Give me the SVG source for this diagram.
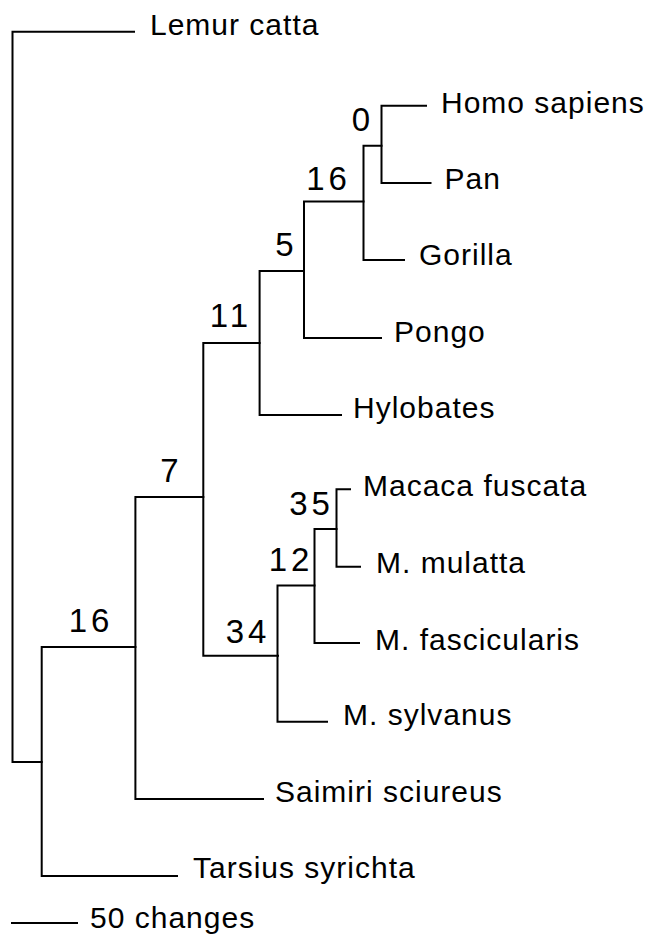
<svg xmlns="http://www.w3.org/2000/svg" width="650" height="937" viewBox="0 0 650 937">
<style>
  .edge { fill: none; stroke: #000; stroke-width: 2; stroke-linecap: square; }
  .taxon { font-family: "Liberation Sans", Arial, sans-serif; font-size: 30px; letter-spacing: 1px; fill: #000; }
  .support { font-family: "Liberation Sans", Arial, sans-serif; font-size: 33px; letter-spacing: 4px; fill: #000; text-anchor: middle; }
</style>
<rect width="650" height="937" fill="#fff"/>
<g id="connectors">
  <path class="edge" d="M134,31.7 H12.5 V762 H41.7"/>
  <path class="edge" d="M177,876 H41.7 V647 H135.4"/>
  <path class="edge" d="M263,799 H135.4 V497 H203.3"/>
  <path class="edge" d="M278,655.7 H203.3 V343 H259.6"/>
  <path class="edge" d="M341,415 H259.6 V271 H304"/>
  <path class="edge" d="M381,338 H304 V201.5 H363.5"/>
  <path class="edge" d="M404,260 H363.5 V145.7 H381.5"/>
  <path class="edge" d="M426,105.7 H381.5 V183 H430.5"/>
  <path class="edge" d="M327,721.7 H277.5 V585.5 H314.5"/>
  <path class="edge" d="M359,643 H314.5 V529 H336.5"/>
  <path class="edge" d="M350,489.3 H336.5 V566.7 H360"/>
  <path class="edge" d="M12,923 H77"/>
</g>
<g id="leaf-lemur"><text class="taxon" x="150" y="35">Lemur catta</text></g>
<g id="leaf-homo"><text class="taxon" x="441" y="112.7">Homo sapiens</text></g>
<g id="leaf-pan"><text class="taxon" x="444.5" y="188.5">Pan</text></g>
<g id="leaf-gorilla"><text class="taxon" x="419" y="265">Gorilla</text></g>
<g id="leaf-pongo"><text class="taxon" x="394" y="341.7">Pongo</text></g>
<g id="leaf-hylobates"><text class="taxon" x="353" y="418.3">Hylobates</text></g>
<g id="leaf-fuscata"><text class="taxon" x="363" y="495.5">Macaca fuscata</text></g>
<g id="leaf-mulatta"><text class="taxon" x="376" y="573">M. mulatta</text></g>
<g id="leaf-fascicularis"><text class="taxon" x="375" y="650">M. fascicularis</text></g>
<g id="leaf-sylvanus"><text class="taxon" x="343" y="725">M. sylvanus</text></g>
<g id="leaf-saimiri"><text class="taxon" x="275" y="801.7">Saimiri sciureus</text></g>
<g id="leaf-tarsius"><text class="taxon" x="193" y="878">Tarsius syrichta</text></g>
<g id="scale-bar"><text class="taxon" x="90" y="928">50 changes</text></g>
<g id="node-homo-pan"><text class="support" x="363" y="130.7">0</text></g>
<g id="node-african-apes"><text class="support" x="328.5" y="190">16</text></g>
<g id="node-great-apes"><text class="support" x="286.5" y="256">5</text></g>
<g id="node-hominoids"><text class="support" x="231" y="327">11</text></g>
<g id="node-catarrhines"><text class="support" x="171.5" y="481.7">7</text></g>
<g id="node-fuscata-mulatta"><text class="support" x="311.5" y="515">35</text></g>
<g id="node-asian-macaques"><text class="support" x="291" y="570.7">12</text></g>
<g id="node-macaques"><text class="support" x="248" y="642.7">34</text></g>
<g id="node-anthropoids"><text class="support" x="91" y="631.7">16</text></g>
</svg>
